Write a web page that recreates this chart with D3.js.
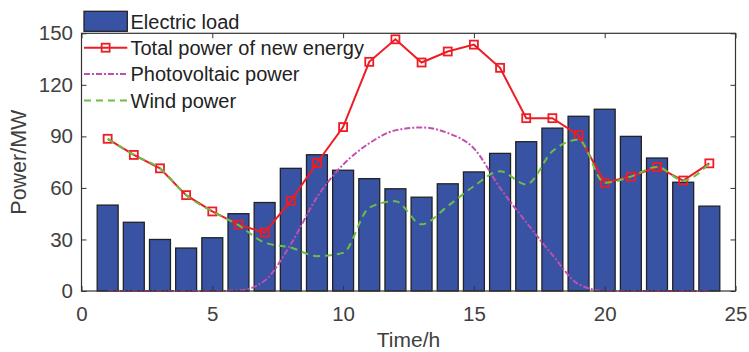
<!DOCTYPE html>
<html><head><meta charset="utf-8">
<script src="https://cdn.jsdelivr.net/npm/d3@7"></script>
<style>body{margin:0;background:#fff}svg{display:block}text{font-family:Arial,"Liberation Sans",Helvetica,sans-serif}</style>
</head><body><svg id="c" width="749" height="352"></svg>
<script>
const hours = [1,2,3,4,5,6,7,8,9,10,11,12,13,14,15,16,17,18,19,20,21,22,23,24];
const electricLoad = [50,40,30,25,31,45,51.5,71.4,79.3,70.3,65.4,59.5,54.6,62.4,69.3,80.1,86.9,94.8,101.7,105.8,90,77.4,63.3,49.4];
const totalPower = [88.6,79.2,71.4,55.8,46.3,38.6,34,52.5,74.5,95.4,133.4,146.5,133,139.4,143.4,129.9,100.6,100.6,90.7,63,66.6,72.2,64.3,74.3];
const pvPower = [0,0,0,0,0,0.3,6,27.2,54.5,73.5,86,93.5,95.2,92,83,60,40,21,4,0,0,0,0,0];
const windPower = [88.6,79.2,71.4,55.8,46.3,38.3,28.2,25.3,20.3,22.2,48.5,52.3,38.8,49.4,61,69.7,62,81.3,88,63,66.6,72.2,64.3,74.3];
const xTicks = [0,5,10,15,20,25];
const yTicks = [0,30,60,90,120,150];
const legendLabels = ["Electric load","Total power of new energy","Photovoltaic power","Wind power"];

const svg = d3.select("#c");
const L=81.5, R=735.5, T=33.3, B=291;
const x = d3.scaleLinear().domain([0,25]).range([L,R]);
const y = d3.scaleLinear().domain([0,150]).range([B,T]);
const axisColor = "#333", textColor="#404040";
const barFill="#3953A4", redC="#EE1C25", pvC="#C04FB0", windC="#6CBF45";

// bars
const bw = (x(1)-x(0))*0.8;
svg.append("g").selectAll("rect").data(hours).join("rect")
  .attr("x", d=>x(d)-bw/2).attr("width", bw)
  .attr("y", (d,i)=>y(electricLoad[i])).attr("height",(d,i)=>y(0)-y(electricLoad[i]))
  .attr("fill",barFill).attr("stroke","#222").attr("stroke-width",1.3);

// lines
const lineStraight = d3.line().x((d,i)=>x(hours[i])).y(d=>y(d));
const lineSmooth = d3.line().x((d,i)=>x(hours[i])).y(d=>y(d)).curve(d3.curveMonotoneX);
svg.append("path").datum(totalPower).attr("d",lineStraight).attr("fill","none")
  .attr("stroke",redC).attr("stroke-width",2);
const ms=8;
svg.append("g").selectAll("rect").data(totalPower).join("rect")
  .attr("x",(d,i)=>x(hours[i])-ms/2).attr("y",d=>y(d)-ms/2).attr("width",ms).attr("height",ms)
  .attr("fill","none").attr("stroke",redC).attr("stroke-width",1.8);
svg.append("path").datum(pvPower).attr("d",lineSmooth).attr("fill","none")
  .attr("stroke",pvC).attr("stroke-width",2).attr("stroke-dasharray","6,2,2,2");
svg.append("path").datum(windPower).attr("d",lineSmooth).attr("fill","none")
  .attr("stroke",windC).attr("stroke-width",2).attr("stroke-dasharray","7,5");

// axes
const gx = svg.append("g").attr("transform",`translate(0,${B})`)
  .call(d3.axisBottom(x).tickValues(xTicks).tickSizeInner(-5).tickSizeOuter(0).tickPadding(15.5));
const gy = svg.append("g").attr("transform",`translate(${L},0)`)
  .call(d3.axisLeft(y).tickValues(yTicks).tickSizeInner(-5).tickSizeOuter(0).tickPadding(8.5));
const gxt = svg.append("g").attr("transform",`translate(0,${T})`)
  .call(d3.axisTop(x).tickValues(xTicks).tickSizeInner(-5).tickSizeOuter(0).tickFormat(""));
const gyr = svg.append("g").attr("transform",`translate(${R},0)`)
  .call(d3.axisRight(y).tickValues(yTicks).tickSizeInner(-5).tickSizeOuter(0).tickFormat(""));
[gx,gy,gxt,gyr].forEach(g=>{
  g.select(".domain").remove();
  g.selectAll("line").attr("stroke",axisColor);
  g.selectAll("text").attr("fill",textColor).style("font-size","20.5px").style("font-family","Arial,'Liberation Sans',sans-serif");
});
svg.append("rect").attr("x",L).attr("y",T).attr("width",R-L).attr("height",B-T)
  .attr("fill","none").attr("stroke",axisColor).attr("stroke-width",1.2);

// axis titles
svg.append("text").attr("x",(L+R)/2).attr("y",346.5).attr("text-anchor","middle")
  .attr("fill",textColor).style("font-size","21px").text("Time/h");
svg.append("text").attr("transform",`translate(25.5,${(T+B)/2}) rotate(-90)`).attr("text-anchor","middle")
  .attr("fill",textColor).style("font-size","21.5px").text("Power/MW");

// legend
const lx0=84, lx1=127.3, ly0=21.3, dy=26.4;
const lg = svg.append("g");
lg.append("rect").attr("x",lx0).attr("y",ly0-10).attr("width",lx1-lx0).attr("height",20)
  .attr("fill",barFill).attr("stroke","#222").attr("stroke-width",1.3);
lg.append("line").attr("x1",lx0).attr("x2",lx1).attr("y1",ly0+dy).attr("y2",ly0+dy)
  .attr("stroke",redC).attr("stroke-width",2);
lg.append("rect").attr("x",(lx0+lx1)/2-ms/2).attr("y",ly0+dy-ms/2).attr("width",ms).attr("height",ms)
  .attr("fill","none").attr("stroke",redC).attr("stroke-width",1.8);
lg.append("line").attr("x1",lx0).attr("x2",lx1).attr("y1",ly0+2*dy).attr("y2",ly0+2*dy)
  .attr("stroke",pvC).attr("stroke-width",2).attr("stroke-dasharray","6,2,2,2");
lg.append("line").attr("x1",lx0).attr("x2",lx1).attr("y1",ly0+3*dy).attr("y2",ly0+3*dy)
  .attr("stroke",windC).attr("stroke-width",2).attr("stroke-dasharray","7,5");
lg.selectAll("text.l").data(legendLabels).join("text").attr("class","l")
  .attr("x",130.5).attr("y",(d,i)=>ly0+i*dy).attr("dy","0.36em")
  .attr("fill","#222").style("font-size","20px").text(d=>d);
</script></body></html>
